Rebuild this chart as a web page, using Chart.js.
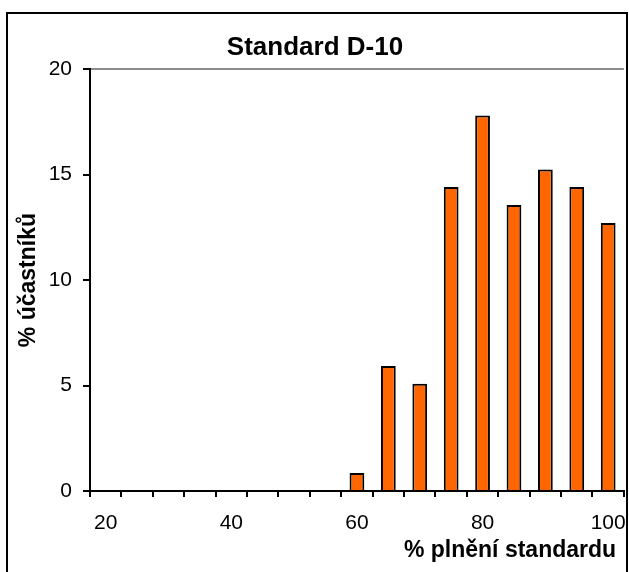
<!DOCTYPE html>
<html>
<head>
<meta charset="utf-8">
<script src="https://cdn.jsdelivr.net/npm/chart.js@4"></script>
<style>
    html, body { margin: 0; padding: 0; background: #fff; overflow: hidden; }
    #wrap { position: relative; width: 629px; height: 572px; overflow: hidden; }
    #box { position: absolute; left: 0; top: 0; width: 640px; height: 572px; }
    #frame { position: absolute; left: 6px; top: 12px; width: 618px; height: 600px;
             border: 2px solid #000; pointer-events: none; }
</style>
</head>
<body>
<div id="wrap">
    <div id="box"><canvas id="chart"></canvas></div>
    <div id="frame"></div>
</div>
<script>
const categories = ["20", "25", "30", "35", "40", "45", "50", "55", "60",
                    "65", "70", "75", "80", "85", "90", "95", "100"];
const participants = [null, null, null, null, null, null, null, null, 0.85,
                      5.93, 5.08, 14.41, 17.80, 13.56, 15.25, 14.41, 12.71];
const yTicks = [0, 5, 10, 15, 20];
const xLabelsShown = ["20", "40", "60", "80", "100"];

const chartTitle = "Standard D-10";
const xTitle = "% plnění standardu";
const yTitle = "% účastníků";

const FONT = "'Liberation Sans', Arial, sans-serif";

// axis titles placed like the Excel original
const axisTitles = {
    id: "axisTitles",
    afterDraw(chart) {
        const ctx = chart.ctx;
        const area = chart.chartArea;
        ctx.save();
        ctx.fillStyle = "#000";
        ctx.font = "bold 23px " + FONT;
        ctx.textAlign = "center";
        ctx.textBaseline = "middle";
        ctx.fillText(xTitle, 510, 551);
        ctx.translate(29, (area.top + area.bottom) / 2);
        ctx.rotate(-Math.PI / 2);
        ctx.fillText(yTitle, 0, 0);
        ctx.restore();
    }
};

new Chart(document.getElementById("chart"), {
    type: "bar",
    data: {
        labels: categories,
        datasets: [{
            data: participants,
            backgroundColor: "#FF6600",
            borderColor: "#000",
            borderWidth: 2,
            barPercentage: 0.47,
            categoryPercentage: 1.0,
        }],
    },
    options: {
        responsive: true,
        maintainAspectRatio: false,
        animation: false,
        events: [],
        layout: { padding: { left: 0, right: 10, top: 0, bottom: 0 } },
        scales: {
            x: {
                grid: {
                    offset: true,
                    drawOnChartArea: false,
                    tickLength: 6,
                    tickColor: "#000",
                    lineWidth: 2,
                },
                border: { color: "#000", width: 2 },
                ticks: {
                    autoSkip: false,
                    maxRotation: 0,
                    padding: 14,
                    color: "#000",
                    font: { family: FONT, size: 21 },
                    callback(value) {
                        const lab = this.getLabelForValue(value);
                        return xLabelsShown.includes(lab) ? lab : "";
                    },
                },
                afterFit(scale) { scale.height = 81; },
            },
            y: {
                min: 0,
                max: 20,
                afterBuildTicks(scale) { scale.ticks = yTicks.map(v => ({ value: v })); },
                grid: {
                    color: ctx => ctx.tick && ctx.tick.value === 20 ? "#8c8c8c" : "rgba(0,0,0,0)",
                    tickColor: "#000",
                    tickLength: 7,
                    lineWidth: 2,
                },
                border: { color: "#000", width: 2 },
                ticks: {
                    padding: 11,
                    color: "#000",
                    font: { family: FONT, size: 21 },
                },
                afterFit(scale) { scale.width = 90; },
            },
        },
        plugins: {
            legend: { display: false },
            tooltip: { enabled: false },
            title: {
                display: true,
                text: chartTitle,
                color: "#000",
                font: { family: FONT, size: 26, weight: "bold", lineHeight: 1.2 },
                padding: { top: 32, bottom: 6 },
            },
        },
    },
    plugins: [axisTitles],
});
</script>
</body>
</html>
